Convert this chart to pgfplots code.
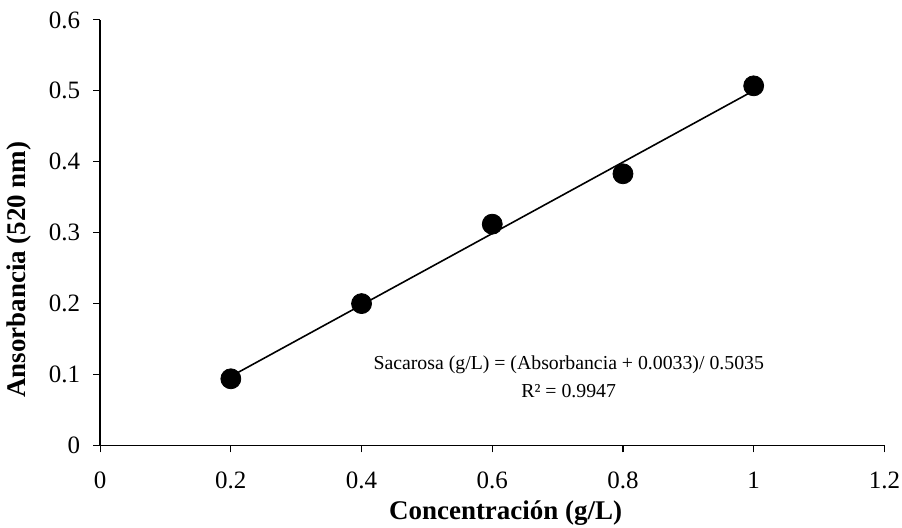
\documentclass[border=0pt]{standalone}
\usepackage{pgfplots}
\pgfplotsset{compat=1.18}
\usepackage{fontspec}
\setmainfont{Liberation Serif}

\begin{document}
\begin{tikzpicture}
\begin{axis}[
  width=392.5pt, height=213pt,
  scale only axis,
  xmin=0, xmax=1.2, ymin=0, ymax=0.6,
  xtick={0,0.2,...,1.2},
  ytick={0,0.1,...,0.6},
  axis lines=left,
  axis line style={-, line width=0.8pt, black},
  tick align=outside,
  major tick length=3.5pt,
  tick style={black, line width=0.6pt},
  ticklabel style={font=\fontsize{12.5}{15}\selectfont},
  /pgf/number format/assume math mode=true,
  /pgf/number format/fixed,
  /pgf/number format/precision=1,
  xticklabel style={inner sep=1pt, yshift=-8.7pt},
  yticklabel style={xshift=-3pt, inner ysep=5.7pt},
  xlabel={\textbf{Concentración (g/L)}},
  ylabel={\textbf{Ansorbancia (520 nm)}},
  label style={font=\fontsize{13.5}{16}\selectfont, inner sep=1pt},
  xlabel style={at={(axis description cs:0.517,0)}, anchor=base, yshift=-37pt},
  ylabel style={at={(axis description cs:0,0.413)}, anchor=center, yshift=40.5pt, inner sep=3.5pt},
  clip=false,
]
% calibration standards
\addplot[only marks, mark=*, mark size=5pt, mark options={fill=black, draw=black}]
  coordinates {(0.2,0.094) (0.4,0.200) (0.6,0.312) (0.8,0.383) (1.0,0.507)};
% linear fit: A = 0.5035 c - 0.0033
\addplot[black, line width=0.8pt]
  coordinates {(0.2,0.0974) (1.0,0.5002)};
\node[align=center, font=\fontsize{9.9}{14}\selectfont] at (axis cs:0.717,0.097)
  {Sacarosa (g/L) = (Absorbancia + 0.0033)/ 0.5035\\R² = 0.9947};
\end{axis}
\end{tikzpicture}
\end{document}
